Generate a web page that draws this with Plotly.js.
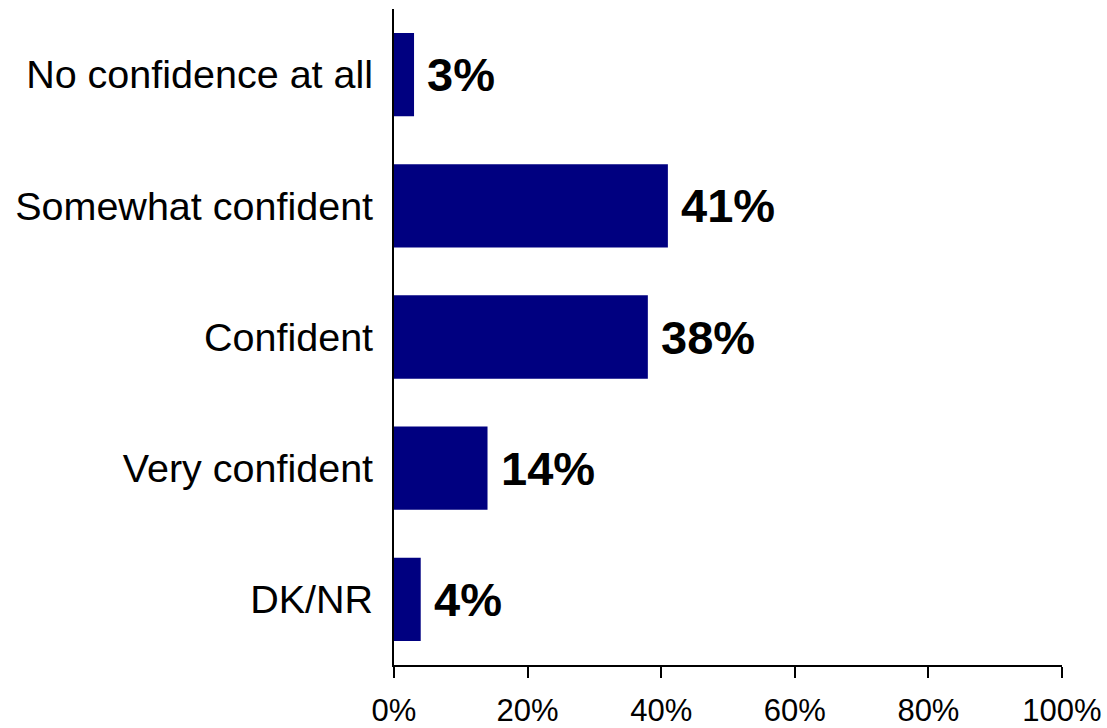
<!DOCTYPE html>
<html>
<head>
<meta charset="utf-8">
<script src="https://cdn.plot.ly/plotly-3.0.1.min.js"></script>
<style>html,body{margin:0;padding:0;background:#fff;}#chart{width:1107px;height:728px;}</style>
</head>
<body>
<div id="chart"></div>
<script>
const categories = ["DK/NR", "Very confident", "Confident", "Somewhat confident", "No confidence at all"];
const values = [4, 14, 38, 41, 3];
const valueLabels = ["4%", "14%", "38%", "41%", "3%"];
const xTickValues = [0, 20, 40, 60, 80, 100];
const xTickLabels = ["0%", "20%", "40%", "60%", "80%", "100%"];

const trace = {
  type: "bar",
  orientation: "h",
  x: values,
  y: categories,
  marker: {color: "#000080", line: {width: 0}},
  hoverinfo: "none"
};

const annotations = values.map((v, i) => ({
  x: v, y: categories[i], xref: "x", yref: "y",
  text: valueLabels[i], showarrow: false,
  xanchor: "left", yanchor: "middle", xshift: 11,
  font: {family: "Liberation Sans, Arial, sans-serif", size: 47, color: "#000", weight: "bold"}
}));

const layout = {
  width: 1107, height: 728,
  margin: {l: 394, r: 45, t: 9, b: 63, pad: 0},
  paper_bgcolor: "#fff", plot_bgcolor: "#fff",
  showlegend: false,
  bargap: 0.365,
  font: {family: "Liberation Sans, Arial, sans-serif", color: "#000"},
  xaxis: {
    range: [0, 100], fixedrange: true,
    tickmode: "array", tickvals: xTickValues, ticktext: xTickLabels,
    showgrid: false, zeroline: false,
    showline: true, linecolor: "#000", linewidth: 2,
    ticks: "outside", ticklen: 11, tickwidth: 2, tickcolor: "#000",
    tickfont: {size: 31, color: "#000"},
    ticklabelstandoff: 6
  },
  yaxis: {
    type: "category", categoryorder: "array", categoryarray: categories,
    range: [-0.5, 4.5], fixedrange: true,
    showgrid: false, zeroline: false,
    showline: true, linecolor: "#000", linewidth: 2,
    ticks: "", tickfont: {size: 39.5, color: "#000"},
    ticklabelstandoff: 11
  },
  annotations: annotations
};

Plotly.newPlot("chart", [trace], layout, {displayModeBar: false, staticPlot: true});
</script>
</body>
</html>
